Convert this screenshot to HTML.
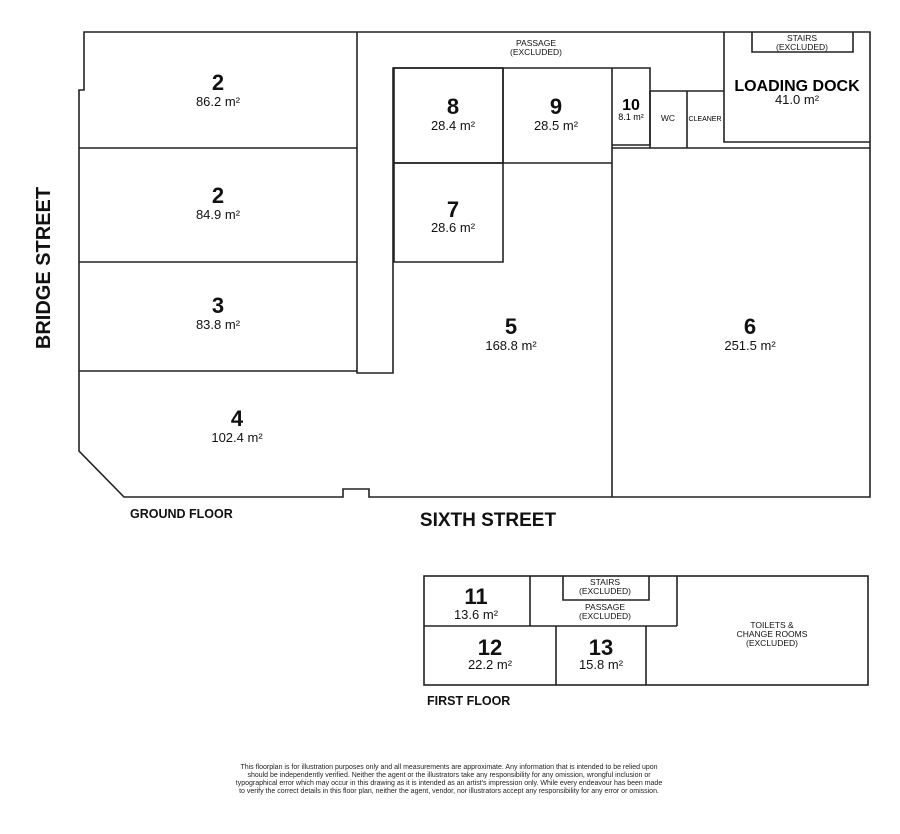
<!DOCTYPE html>
<html><head><meta charset="utf-8"><style>
html,body{margin:0;padding:0;background:#fff;}
svg{display:block;font-family:"Liberation Sans",sans-serif;}
.n{font-size:22px;font-weight:bold;text-anchor:middle;fill:#111;}
.a{font-size:13px;text-anchor:middle;fill:#111;}
.s{font-size:8.5px;text-anchor:middle;fill:#111;}
.b{font-weight:bold;fill:#111;}
</style></head><body>
<svg width="900" height="834" viewBox="0 0 900 834" xmlns="http://www.w3.org/2000/svg">
<g fill="none" stroke="#222" stroke-width="1.6">
<path d="M84,32 H870 V497 H369 V489 H343 V497 H124 L79,451 V90 H84 Z"/>
<line x1="79" y1="148" x2="357" y2="148"/>
<line x1="79" y1="262" x2="357" y2="262"/>
<line x1="79" y1="371" x2="357" y2="371"/>
<path d="M357,32 V373 H393 V68 H612"/>
<rect x="394" y="68" width="109" height="95"/>
<line x1="394" y1="163" x2="612" y2="163"/>
<path d="M394,163 V262 H503 V68"/>
<path d="M612,68 V497"/>
<path d="M612,68 H650 V145 H612"/>
<path d="M650,91 H724 M650,91 V148 M687,91 V148"/>
<path d="M724,32 V142 H870"/>
<line x1="612" y1="148" x2="870" y2="148"/>
<path d="M752,32 V52 H853 V32"/>
<rect x="424" y="576" width="444" height="109"/>
<path d="M424,626 H677 M530,576 V626 M677,576 V626 M556,626 V685 M646,626 V685"/>
<path d="M563,576 V600 H649 V576"/>
</g>
<text class="n" x="218" y="90">2</text><text class="a" x="218" y="106">86.2 m²</text>
<text class="n" x="218" y="203">2</text><text class="a" x="218" y="219">84.9 m²</text>
<text class="n" x="218" y="313">3</text><text class="a" x="218" y="329">83.8 m²</text>
<text class="n" x="237" y="426">4</text><text class="a" x="237" y="442">102.4 m²</text>
<text class="n" x="511" y="334">5</text><text class="a" x="511" y="350">168.8 m²</text>
<text class="n" x="750" y="334">6</text><text class="a" x="750" y="350">251.5 m²</text>
<text class="n" x="453" y="114">8</text><text class="a" x="453" y="130">28.4 m²</text>
<text class="n" x="556" y="114">9</text><text class="a" x="556" y="130">28.5 m²</text>
<text class="n" x="453" y="217">7</text><text class="a" x="453" y="232">28.6 m²</text>
<text x="631" y="110" style="font-size:16px;font-weight:bold;text-anchor:middle">10</text>
<text x="631" y="120" style="font-size:9px;text-anchor:middle">8.1 m²</text>
<text class="s" x="668" y="121">WC</text>
<text x="705" y="121" style="font-size:7px;text-anchor:middle">CLEANER</text>
<text x="797" y="91" style="font-size:16px;font-weight:bold;text-anchor:middle">LOADING DOCK</text>
<text class="a" x="797" y="104">41.0 m²</text>
<text class="s" x="802" y="41">STAIRS</text><text class="s" x="802" y="50">(EXCLUDED)</text>
<text class="s" x="536" y="46">PASSAGE</text><text class="s" x="536" y="55">(EXCLUDED)</text>
<text class="n" x="476" y="604">11</text><text class="a" x="476" y="619">13.6 m²</text>
<text class="n" x="490" y="655">12</text><text class="a" x="490" y="669">22.2 m²</text>
<text class="n" x="601" y="655">13</text><text class="a" x="601" y="669">15.8 m²</text>
<text class="s" x="605" y="585">STAIRS</text><text class="s" x="605" y="594">(EXCLUDED)</text>
<text class="s" x="605" y="610">PASSAGE</text><text class="s" x="605" y="619">(EXCLUDED)</text>
<text class="s" x="772" y="628">TOILETS &amp;</text><text class="s" x="772" y="637">CHANGE ROOMS</text><text class="s" x="772" y="646">(EXCLUDED)</text>
<text class="b" x="130" y="518" style="font-size:12.5px">GROUND FLOOR</text>
<text class="b" x="488" y="526" style="font-size:19px;text-anchor:middle">SIXTH STREET</text>
<text class="b" x="427" y="705" style="font-size:12.5px">FIRST FLOOR</text>
<text class="b" transform="translate(50,268) rotate(-90)" style="font-size:20px;text-anchor:middle">BRIDGE STREET</text>
<g style="font-size:7px;text-anchor:middle;fill:#222">
<text x="449" y="769">This floorplan is for illustration purposes only and all measurements are approximate. Any information that is intended to be relied upon</text>
<text x="449" y="777">should be independently verified. Neither the agent or the illustrators take any responsibility for any omission, wrongful inclusion or</text>
<text x="449" y="785">typographical error which may occur in this drawing as it is intended as an artist's impression only. While every endeavour has been made</text>
<text x="449" y="793">to verify the correct details in this floor plan, neither the agent, vendor, nor illustrators accept any responsibility for any error or omission.</text>
</g>
</svg>
</body></html>
